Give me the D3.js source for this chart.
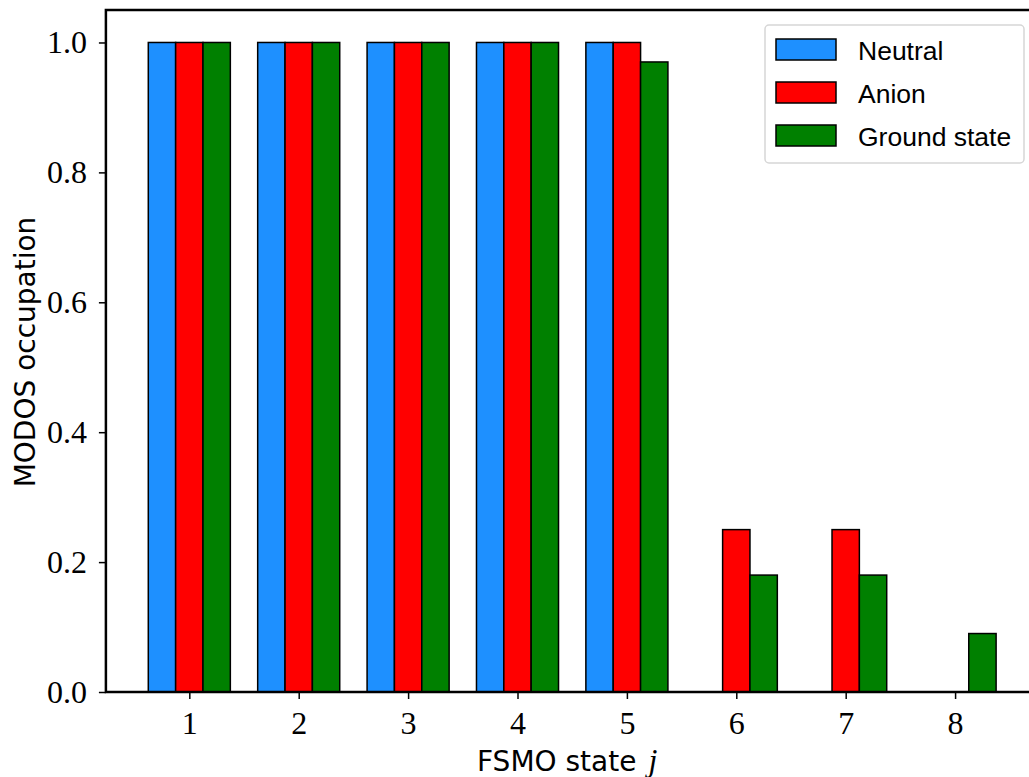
<!DOCTYPE html>
<html>
<head>
<meta charset="utf-8">
<script src="https://cdn.jsdelivr.net/npm/d3@7"></script>
<style>
  html, body { margin: 0; padding: 0; background: #fff; }
  svg { display: block; }
</style>
</head>
<body>
<svg id="chart" width="1029" height="777"></svg>
<script>
// FSMO states and MODOS occupations per series
const states = [1, 2, 3, 4, 5, 6, 7, 8];
const neutral = [1, 1, 1, 1, 1, 0, 0, 0];
const anion = [1, 1, 1, 1, 1, 0.25, 0.25, 0];
const ground = [1, 1, 1, 1, 0.97, 0.18, 0.18, 0.09];
const seriesNames = ["Neutral", "Anion", "Ground state"];
const seriesColors = ["#1e90ff", "#ff0000", "#008000"];
const yTickValues = [0.0, 0.2, 0.4, 0.6, 0.8, 1.0];
const barWidth = 0.25;

const series = [neutral, anion, ground];
const offsets = [-barWidth, 0, barWidth];

const svg = d3.select("#chart");

const plot = { left: 105.9, right: 1038.5, top: 10, bottom: 692 };

const x = d3.scaleLinear()
  .domain([0.2375, 8.7625])
  .range([plot.left, plot.right]);
const y = d3.scaleLinear()
  .domain([0, 1.05])
  .range([plot.bottom, plot.top]);

// grouped bars, one group per state
series.forEach((vals, si) => {
  svg.append("g")
    .selectAll("rect")
    .data(states.map((s, i) => ({ s, v: vals[i] })).filter(d => d.v > 0))
    .join("rect")
    .attr("x", d => x(d.s + offsets[si] - barWidth / 2))
    .attr("width", d => x(d.s + barWidth / 2) - x(d.s - barWidth / 2))
    .attr("y", d => y(d.v))
    .attr("height", d => y(0) - y(d.v))
    .attr("fill", seriesColors[si])
    .attr("stroke", "#000")
    .attr("stroke-width", 1.5);
});

// axes
const serif = "'Liberation Serif', 'DejaVu Serif', serif";
const sans = "'DejaVu Sans', 'Noto Sans', sans-serif";
const legendSans = "'Liberation Sans', Arial, sans-serif";

const yAxis = svg.append("g")
  .attr("transform", `translate(${plot.left},0)`)
  .call(d3.axisLeft(y).tickValues(yTickValues).tickSize(7).tickPadding(12).tickFormat(d3.format(".1f")));
const xAxis = svg.append("g")
  .attr("transform", `translate(0,${plot.bottom})`)
  .call(d3.axisBottom(x).tickValues(states).tickSize(7).tickPadding(12).tickFormat(d3.format("d")));

[yAxis, xAxis].forEach(g => {
  g.select(".domain").remove();
  g.selectAll(".tick line").attr("stroke", "#000").attr("stroke-width", 1.5);
  g.selectAll(".tick text")
    .attr("fill", "#000")
    .style("font-family", serif)
    .style("font-size", "32px");
});

// frame
svg.append("rect")
  .attr("x", plot.left).attr("y", plot.top)
  .attr("width", plot.right - plot.left).attr("height", plot.bottom - plot.top)
  .attr("fill", "none").attr("stroke", "#000").attr("stroke-width", 2.5);

// axis labels
svg.append("text")
  .attr("x", 477)
  .attr("y", 771)
  .style("font-family", sans)
  .style("font-size", "28px")
  .call(t => {
    t.append("tspan").text("FSMO state");
    t.append("tspan").attr("dx", 12).text("j")
      .style("font-family", serif).style("font-style", "italic").style("font-size", "32px");
  });

svg.append("text")
  .attr("transform", `translate(35,${(plot.top + plot.bottom) / 2 + 1}) rotate(-90)`)
  .attr("text-anchor", "middle")
  .style("font-family", sans)
  .style("font-size", "28px")
  .text("MODOS occupation");

// legend
const legend = svg.append("g").attr("transform", "translate(765,25)");
legend.append("rect")
  .attr("width", 259).attr("height", 138).attr("rx", 4)
  .attr("fill", "#fff").attr("fill-opacity", 0.8)
  .attr("stroke", "#d6d6d6").attr("stroke-width", 1.5);
seriesNames.forEach((name, i) => {
  const row = legend.append("g").attr("transform", `translate(0,${24.5 + i * 43})`);
  row.append("rect")
    .attr("x", 11).attr("y", -10.5).attr("width", 60).attr("height", 21)
    .attr("fill", seriesColors[i]).attr("stroke", "#000").attr("stroke-width", 1.5);
  row.append("text")
    .attr("x", 93).attr("y", 10)
    .style("font-family", legendSans)
    .style("font-size", "26.5px")
    .text(name);
});
</script>
</body>
</html>
